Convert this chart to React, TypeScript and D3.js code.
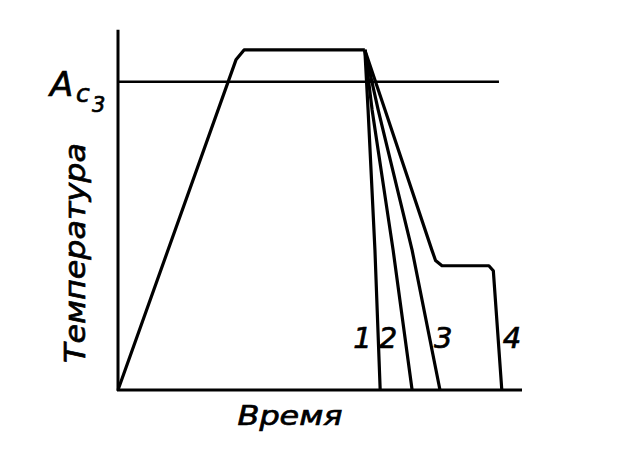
import React from 'react';
import * as d3 from 'd3';

// Schematic: time (0..100) vs temperature (0..100), unitless
const ac3Level = 86.8;
const ac3End = 94.3;

const heating: [number, number][] = [
  [0, 0],
  [29.2, 93.0],
  [31.2, 95.8],
  [61.1, 95.8],
];

const coolingNames = ['1', '2', '3', '4'];

const cooling: [number, number][][] = [
  [[61.1, 95.8], [61.9, 78.9], [63.6, 39.4], [64.9, 0]],
  [[61.1, 95.8], [62.9, 78.9], [68.1, 39.4], [72.8, 0]],
  [[61.1, 95.8], [64.4, 78.9], [72.8, 39.4], [79.7, 0]],
  [[61.1, 95.8], [66.1, 78.9], [77.7, 39.4], [78.6, 36.5], [80.2, 35.0], [91.8, 35.0], [92.9, 33.6], [95.0, 0]],
];

// label positions (time, temperature) for curve numbers
const labelTime = [60.5, 66.8, 80.5, 97.5];
const labelTemp = [11.8, 11.8, 11.8, 11.8];

const W = 619;
const H = 456;

const App: React.FC = () => {
  const x = d3.scaleLinear().domain([0, 100]).range([118, 522]);
  const y = d3.scaleLinear().domain([0, 100]).range([390, 35]);

  const line = d3
    .line<[number, number]>()
    .x(d => x(d[0]))
    .y(d => y(d[1]))
    .curve(d3.curveLinear);

  const font = '"DejaVu Sans", sans-serif';
  const textStroke = { stroke: '#000', strokeWidth: 0.7 };

  return (
    <svg
      width={W}
      height={H}
      style={{ position: 'absolute', left: 0, top: 0, background: '#fff' }}
    >
      {/* axes */}
      <line x1={x(0)} x2={x(0)} y1={y(0) + 1} y2={y(101.5)} stroke="#000" strokeWidth={3} />
      <line x1={x(0) - 1} x2={x(100)} y1={y(0)} y2={y(0)} stroke="#000" strokeWidth={3} />

      {/* Ac3 level */}
      <line x1={x(0)} x2={x(ac3End)} y1={y(ac3Level)} y2={y(ac3Level)} stroke="#000" strokeWidth={2.5} />

      {/* heating + holding */}
      <path d={line(heating) || ''} fill="none" stroke="#000" strokeWidth={3.2} strokeLinejoin="round" />

      {/* cooling curves */}
      {cooling.map((c, i) => (
        <path key={i} d={line(c) || ''} fill="none" stroke="#000" strokeWidth={3.2} strokeLinejoin="round" />
      ))}

      {coolingNames.map((n, i) => (
        <text
          key={n}
          x={x(labelTime[i])}
          y={y(labelTemp[i])}
          fontFamily={font}
          fontStyle="italic"
          fontSize={29}
          textAnchor="middle"
          {...textStroke}
        >
          {n}
        </text>
      ))}

      {/* Ac3 label */}
      <text fontFamily={font} fontStyle="italic" fill="#000" {...textStroke}>
        <tspan x={50} y={96} fontSize={34}>A</tspan>
        <tspan x={76} y={102} fontSize={25}>c</tspan>
        <tspan x={92} y={112} fontSize={21}>3</tspan>
      </text>

      {/* axis titles */}
      <text
        x={290}
        y={425}
        fontFamily={font}
        fontStyle="italic"
        fontSize={27}
        textAnchor="middle"
        textLength={105}
        lengthAdjust="spacingAndGlyphs"
        {...textStroke}
      >
        Время
      </text>
      <text
        transform="translate(85,253) rotate(-90)"
        fontFamily={font}
        fontStyle="italic"
        fontSize={29}
        textAnchor="middle"
        textLength={220}
        lengthAdjust="spacingAndGlyphs"
        {...textStroke}
      >
        Температура
      </text>
    </svg>
  );
};

export default App;
